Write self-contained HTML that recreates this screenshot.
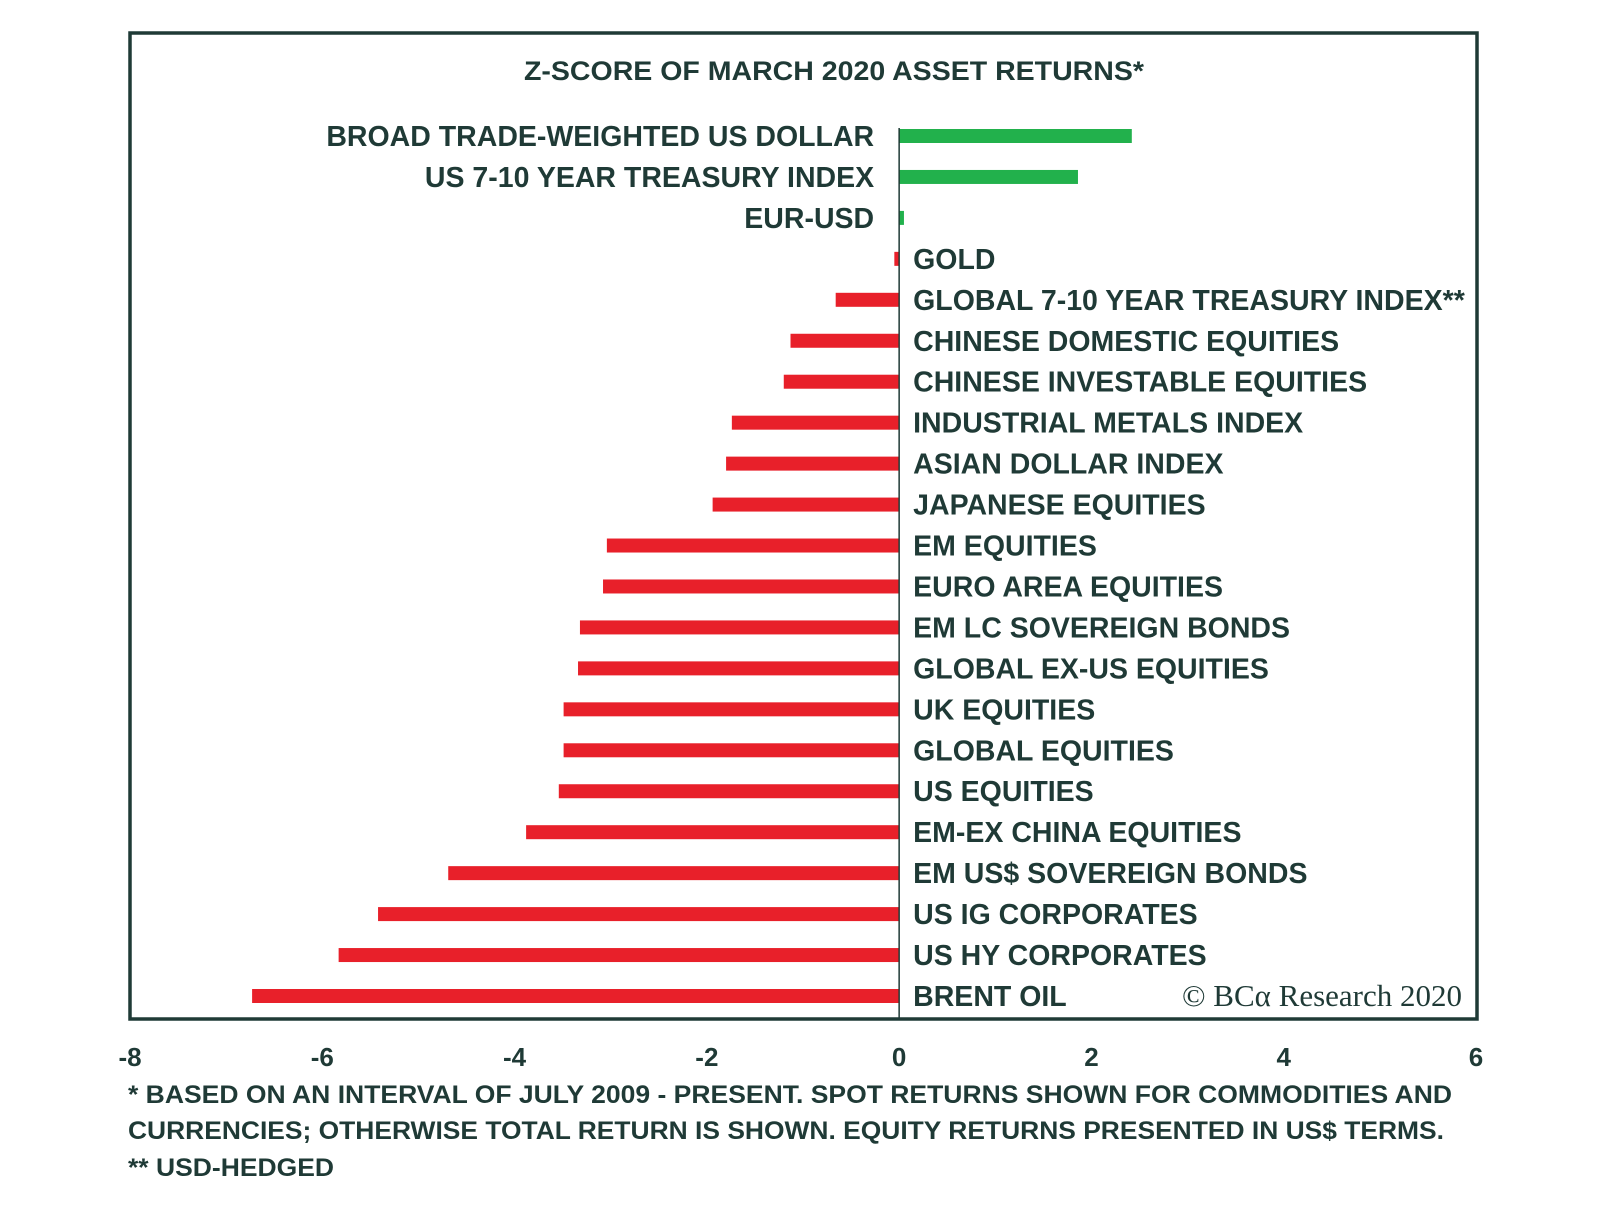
<!DOCTYPE html>
<html><head><meta charset="utf-8"><style>
html,body{margin:0;padding:0;background:#fff;}
svg{display:block;font-family:"Liberation Sans",sans-serif;}
</style></head>
<body>
<svg id="chart" width="1600" height="1214" viewBox="0 0 1600 1214">
<rect x="130" y="33" width="1347" height="986" fill="#fff" stroke="#1f3a36" stroke-width="3.5"/>
<text x="834" y="80" text-anchor="middle" font-size="27" font-weight="bold" fill="#1f3a36" textLength="620" lengthAdjust="spacingAndGlyphs">Z-SCORE  OF MARCH  2020 ASSET  RETURNS*</text>
<g id="bars"></g>
<g id="labels"></g>
<line id="zero" y1="128" y2="1019" stroke="#1f3a36" stroke-width="1.5"/>
<g id="ticks"></g>
<text x="1462" y="1006" text-anchor="end" font-family="Liberation Serif, serif" font-size="31" fill="#1f3a36">© BCα Research 2020</text>
<text x="128" y="1103" font-size="25" font-weight="bold" fill="#1f3a36" textLength="1324" lengthAdjust="spacingAndGlyphs">* BASED ON AN INTERVAL OF JULY 2009 - PRESENT. SPOT RETURNS SHOWN FOR COMMODITIES AND</text>
<text x="128" y="1139" font-size="25" font-weight="bold" fill="#1f3a36" textLength="1316" lengthAdjust="spacingAndGlyphs">CURRENCIES; OTHERWISE TOTAL RETURN IS SHOWN. EQUITY RETURNS PRESENTED IN US$ TERMS.</text>
<text x="128" y="1176" font-size="25" font-weight="bold" fill="#1f3a36" textLength="206" lengthAdjust="spacingAndGlyphs">** USD-HEDGED</text>
</svg>
<script>
const categories = ["BROAD TRADE-WEIGHTED US DOLLAR","US 7-10 YEAR TREASURY INDEX","EUR-USD","GOLD","GLOBAL 7-10 YEAR TREASURY INDEX**","CHINESE DOMESTIC EQUITIES","CHINESE INVESTABLE EQUITIES","INDUSTRIAL METALS INDEX","ASIAN DOLLAR INDEX","JAPANESE EQUITIES","EM EQUITIES","EURO AREA EQUITIES","EM LC SOVEREIGN BONDS","GLOBAL EX-US EQUITIES","UK EQUITIES","GLOBAL EQUITIES","US EQUITIES","EM-EX CHINA EQUITIES","EM US$ SOVEREIGN BONDS","US IG CORPORATES","US HY CORPORATES","BRENT OIL"];
const zscores = [2.42,1.86,0.05,-0.05,-0.66,-1.13,-1.2,-1.74,-1.8,-1.94,-3.04,-3.08,-3.32,-3.34,-3.49,-3.49,-3.54,-3.88,-4.69,-5.42,-5.83,-6.73];
const tickValues = [-8,-6,-4,-2,0,2,4,6];
const tickLabels = ["-8","-6","-4","-2","0","2","4","6"];

const NS="http://www.w3.org/2000/svg";
const xMin=-8,xMax=6,pxL=130,pxR=1476;
function xScale(v){return pxL+(v-xMin)/(xMax-xMin)*(pxR-pxL);}
const rowTop=136,rowBot=996;
function yScale(i){return rowTop+i*(rowBot-rowTop)/(categories.length-1);}
const x0=xScale(0);
const z=document.getElementById('zero');z.setAttribute('x1',x0);z.setAttribute('x2',x0);
const gb=document.getElementById('bars'),gl=document.getElementById('labels'),gt=document.getElementById('ticks');
categories.forEach((c,i)=>{
  const v=zscores[i],y=yScale(i),xv=xScale(v);
  const r=document.createElementNS(NS,'rect');
  r.setAttribute('x',Math.min(x0,xv));r.setAttribute('y',y-7);
  r.setAttribute('width',Math.max(Math.abs(xv-x0),3));r.setAttribute('height',14);
  r.setAttribute('fill',v>=0?'#22b14c':'#e8202a');
  
  
  gb.appendChild(r);
  const t=document.createElementNS(NS,'text');
  t.textContent=c;
  t.setAttribute('font-size','28.5');t.setAttribute('font-weight','bold');t.setAttribute('fill','#1f3a36');
  t.setAttribute('y',y+10);
  if(v>=0&&i<3){t.setAttribute('x',x0-25);t.setAttribute('text-anchor','end');}
  else{t.setAttribute('x',x0+14);}
  
  
  gl.appendChild(t);
});
tickValues.forEach((v,i)=>{
  const t=document.createElementNS(NS,'text');
  t.textContent=tickLabels[i];
  t.setAttribute('x',xScale(v));t.setAttribute('y',1066);
  t.setAttribute('text-anchor','middle');t.setAttribute('font-size','26');t.setAttribute('font-weight','bold');t.setAttribute('fill','#1f3a36');
  
  
  gt.appendChild(t);
});
</script>
</body></html>
